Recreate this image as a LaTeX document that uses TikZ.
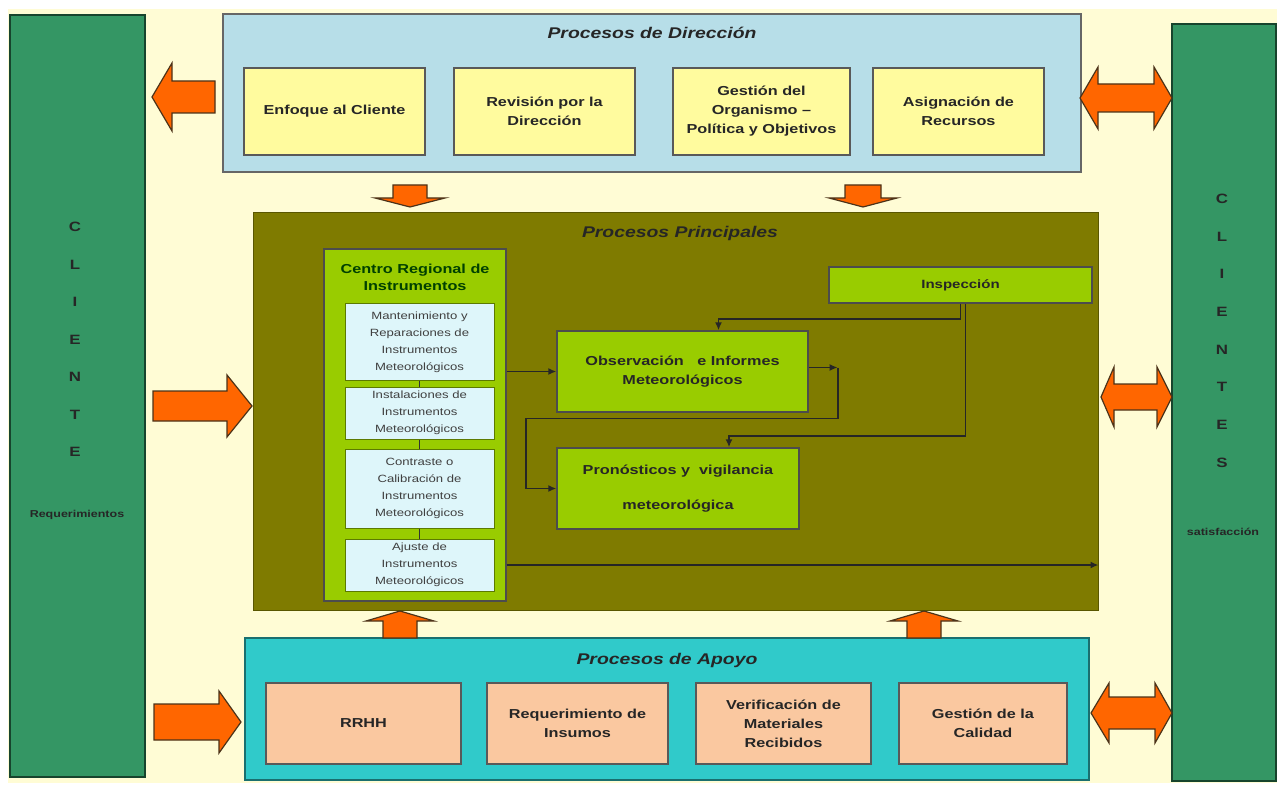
\documentclass[tikz,border=0pt]{standalone}
\usepackage{fontspec}
\setmainfont[FakeStretch=1.25]{Liberation Sans}
\usetikzlibrary{positioning,arrows.meta}

\definecolor{crema}{RGB}{255,252,213}
\definecolor{verdecli}{RGB}{52,150,100}
\definecolor{azuldir}{RGB}{183,222,232}
\definecolor{amarillo}{RGB}{255,251,158}
\definecolor{oliva}{RGB}{127,123,0}
\definecolor{verdelima}{RGB}{153,204,0}
\definecolor{celeste}{RGB}{222,246,250}
\definecolor{turquesa}{RGB}{48,202,202}
\definecolor{durazno}{RGB}{250,200,160}
\definecolor{naranja}{RGB}{255,102,0}

% block arrows: tail, tip, centre, head base, body half, head half
\newcommand{\hflecha}[6]{\draw[flecha] (#1,#3-#5) -- (#4,#3-#5) -- (#4,#3-#6) -- (#2,#3) -- (#4,#3+#6) -- (#4,#3+#5) -- (#1,#3+#5) -- cycle;}
\newcommand{\vflecha}[6]{\draw[flecha] (#3-#5,#1) -- (#3-#5,#4) -- (#3-#6,#4) -- (#3,#2) -- (#3+#6,#4) -- (#3+#5,#4) -- (#3+#5,#1) -- cycle;}
\newcommand{\dflecha}[7]{\draw[flecha] (#1,#3) -- (#4,#3-#7) -- (#4,#3-#6) -- (#5,#3-#6) -- (#5,#3-#7) -- (#2,#3) -- (#5,#3+#7) -- (#5,#3+#6) -- (#4,#3+#6) -- (#4,#3+#7) -- cycle;}

\begin{document}
\begin{tikzpicture}[x=1pt, y=-1pt, >={Latex[length=8pt,width=7pt]},
  panel/.style = {draw=black!55!verdecli, line width=1.2pt, fill=verdecli, inner sep=0pt},
  marco/.style = {draw=gray!80!black, line width=1.5pt, inner sep=0pt},
  caja/.style = {draw=gray!70!black, line width=1.3pt, inner sep=2pt, align=center,
    font={\fontsize{13}{19}\selectfont\bfseries}, text=black!85},
  cajita/.style = {draw=verdelima!60!black, line width=1pt, fill=celeste, inner sep=1pt, align=center,
    minimum width=149pt, font={\fontsize{10.5}{17}\selectfont}, text=black!75},
  titulo/.style = {font={\fontsize{15.5}{18}\selectfont\bfseries\itshape}, text=black!85},
  letra/.style = {font={\fontsize{13.5}{16}\selectfont\bfseries}, text=black!85},
  nota/.style = {font={\fontsize{10}{12}\selectfont\bfseries}, text=black!85},
  conn/.style = {draw=black!85, line width=1.8pt},
  flecha/.style = {draw=black!60!brown, line width=1.2pt, fill=naranja, line join=miter}]

\useasboundingbox (0,0) rectangle (1277,786);
\fill[crema] (8,9) rectangle (1277,783);

% clientes
\node[panel, minimum width=135pt, minimum height=762pt] (cliente) at (77.5,396) {};
\node[panel, minimum width=104pt, minimum height=757pt] (clientes) at (1224,402.5) {};
\foreach \ch [count=\i] in {C,L,I,E,N,T,E}
  \node[letra] (izq\i) at (75,{189.5+37.5*\i}) {\ch};
\foreach \ch [count=\i] in {C,L,I,E,N,T,E,S}
  \node[letra] (der\i) at (1222,{161+37.7*\i}) {\ch};
\node[nota] (req) at (77,515) {Requerimientos};
\node[nota] (sat) at (1223,532) {satisfacción};

% procesos de direccion
\node[marco, fill=azuldir, minimum width=858pt, minimum height=158pt] (direccion) at (652,93) {};
\node[titulo] (tdir) at (652,33) {Procesos de Dirección};
\node[caja, fill=amarillo, minimum width=181pt, minimum height=87pt] (enfoque) at (334.5,111.5) {Enfoque al Cliente};
\node[caja, fill=amarillo, minimum width=181pt, minimum height=87pt] (revision) at (544.5,111.5) {Revisión por la\\Dirección};
\node[caja, fill=amarillo, minimum width=177pt, minimum height=87pt] (gestion) at (761.5,111.5) {Gestión del\\Organismo –\\Política y Objetivos};
\node[caja, fill=amarillo, minimum width=171pt, minimum height=87pt] (asignacion) at (958.5,111.5) {Asignación de\\Recursos};

% procesos principales
\node[draw=oliva!70!black, line width=1pt, fill=oliva, minimum width=845pt, minimum height=397pt] (principal) at (675.5,411.5) {};
\node[titulo] (tprin) at (680,233) {Procesos Principales};
\node[draw=black!70, line width=1.3pt, fill=verdelima, minimum width=182pt, minimum height=352pt] (centro) at (415,425) {};
\node[align=center, font={\fontsize{13}{17}\selectfont\bfseries}, text=black!75!green] (tcentro) at (415,277) {Centro Regional de\\Instrumentos};
\node[cajita, minimum height=77pt] (mant) at (419.5,342) {Mantenimiento y\\Reparaciones de\\Instrumentos\\Meteorológicos};
\node[cajita, minimum height=52pt] (inst) at (419.5,413) {Instalaciones de\\Instrumentos\\Meteorológicos};
\node[cajita, minimum height=79pt] (contr) at (419.5,488.5) {Contraste o\\Calibración de\\Instrumentos\\Meteorológicos};
\node[cajita, minimum height=52pt] (ajuste) at (419.5,565) {Ajuste de\\Instrumentos\\Meteorológicos};
\draw[line width=1.5pt, black!80] (mant) -- (inst);
\draw[line width=1.5pt, black!80] (inst) -- (contr);
\draw[line width=1.5pt, black!80] (contr) -- (ajuste);

\node[caja, fill=verdelima, draw=black!70, minimum width=263pt, minimum height=36pt,
  font={\fontsize{12}{14}\selectfont\bfseries}] (insp) at (960.5,285) {Inspección};
\node[caja, fill=verdelima, draw=black!70, minimum width=251pt, minimum height=81pt, inner sep=0pt] (obs) at (682.5,371.5) {Observación \ \ e Informes\\Meteorológicos};
\node[caja, fill=verdelima, draw=black!70, minimum width=242pt, minimum height=81pt, inner sep=0pt] (pron) at (678,488.5) {Pronósticos y \ vigilancia\\[16pt]meteorológica};

\draw[conn, ->] (centro.east |- obs) -- (obs);
\draw[conn, ->] (insp.south) -- ++(0,15) -| ([xshift=36pt]obs.north);
\draw[conn, ->] ([xshift=5pt]insp.south) -- ++(0,132) -| ([xshift=51pt]pron.north);
\draw[conn, ->] ([yshift=4pt]obs.east) -- ++(29,0) coordinate (esq);
\draw[conn, ->] (esq) -- ++(0,51) -| ([xshift=-30pt]pron.west) -- (pron.west);
\draw[conn, ->] (centro.east |- ajuste) -- (principal.east |- ajuste);

% procesos de apoyo
\node[marco, fill=turquesa, draw=black!45!turquesa, minimum width=844pt, minimum height=142pt] (apoyo) at (667,709) {};
\node[titulo] (tapo) at (667,660) {Procesos de Apoyo};
\node[caja, fill=durazno, minimum width=195pt, minimum height=81pt] (rrhh) at (363.5,723.5) {RRHH};
\node[caja, fill=durazno, minimum width=181pt, minimum height=81pt] (insumos) at (577.5,723.5) {Requerimiento de\\Insumos};
\node[caja, fill=durazno, minimum width=175pt, minimum height=81pt] (verif) at (783.5,723.5) {Verificación de\\Materiales\\Recibidos};
\node[caja, fill=durazno, minimum width=168pt, minimum height=81pt] (calidad) at (983,723.5) {Gestión de la\\Calidad};

% flechas de bloque
\hflecha{215}{152}{97}{172}{16}{34}
\hflecha{153}{252}{406}{227}{15}{31}
\hflecha{154}{241}{722}{219}{18}{31}
\dflecha{1080}{1172}{98}{1098}{1154}{14}{31}
\dflecha{1101}{1172}{397}{1114}{1157}{13}{30}
\dflecha{1091}{1172}{713}{1109}{1155}{16}{30}
\vflecha{185}{207}{410}{198}{17}{35}
\vflecha{185}{207}{863}{198}{18}{34}
\vflecha{638}{611}{400}{621}{17}{34}
\vflecha{638}{611}{924}{621}{17}{34}
\end{tikzpicture}
\end{document}
